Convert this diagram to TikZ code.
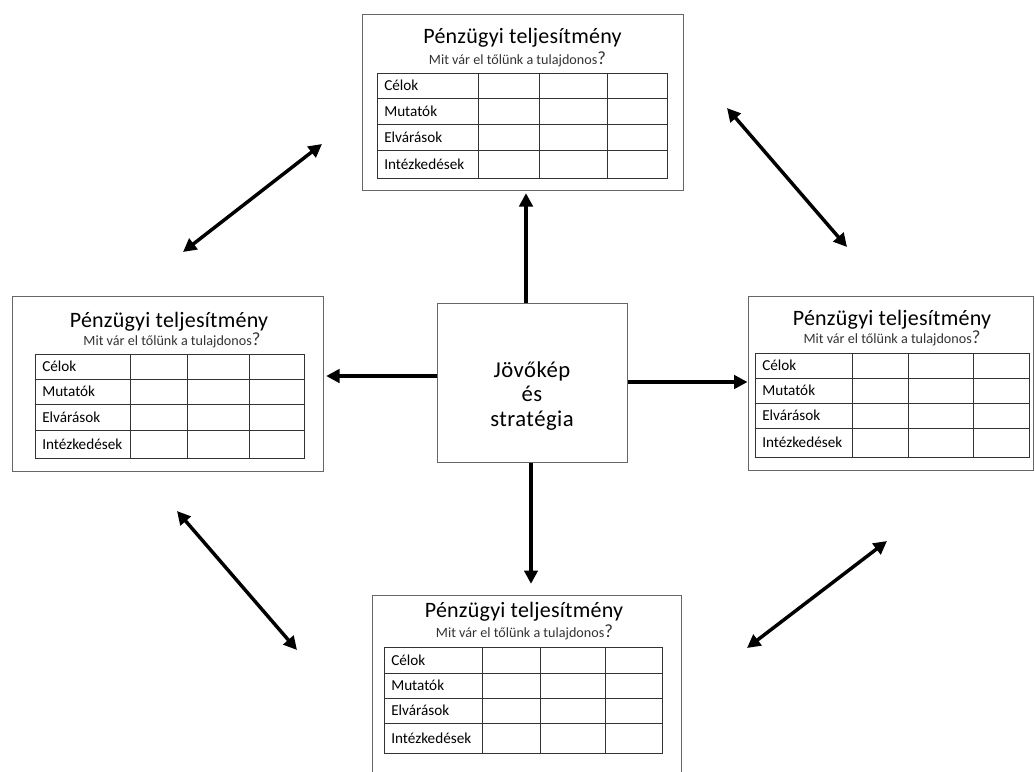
\documentclass[tikz,border=0pt]{standalone}
\usepackage{fontspec}
\setmainfont{Carlito}
\usetikzlibrary{arrows.meta}

\tikzset{
  panel/.style={draw=black!60,line width=0.75pt,inner sep=0pt},
  grid/.style={draw=black!80,line width=0.7pt},
  title/.style={anchor=base,inner sep=0pt,font=\fontsize{16.5}{18}\selectfont\addfontfeature{LetterSpace=1}},
  subtitle/.style={anchor=base,inner sep=0pt,text=black!80,font=\fontsize{10.6}{12}\selectfont},
  rowlabel/.style={anchor=west,inner sep=0pt,font=\fontsize{11.4}{13}\selectfont},
  bigarrow/.style={line width=3pt,-{Triangle[length=10pt,width=10pt]}},
  twoarrow/.style={line width=2.6pt,{Triangle[length=10pt,width=10pt]}-{Triangle[length=10pt,width=10pt]}}
}
\newcommand{\qm}{{\fontsize{14}{13}\selectfont ?}}

\begin{document}
\begin{tikzpicture}[x=0.75pt,y=0.75pt,yscale=-1,xscale=1]
\clip (0,0) rectangle (1035,771);
\fill[white] (0,0) rectangle (1035,771);

%Shape: Rectangle [center]
\node[panel,minimum width=142.5pt,minimum height=119.25pt] (vis) at (532,382.5) {};
% Text Node
\node[align=center,inner sep=0pt,font=\fontsize{17}{18.5}\selectfont\addfontfeature{LetterSpace=2}] (vistext) at (532,396) {Jövőkép\\és\\stratégia};

%Shape: Rectangle [top panel]
\node[panel,minimum width=240.75pt,minimum height=132pt] (fintop) at (522.5,102) {};
% Text Node
\node[title] (ttop) at (522.5,43) {Pénzügyi teljesítmény};
\node[subtitle] (stop) at (517.5,64) {Mit vár el tőlünk a tulajdonos\qm};
%Shape: Table [top panel]
\draw[grid] (377,73) rectangle (667,178) (377,98) -- (667,98) (377,124) -- (667,124) (377,150) -- (667,150)
  (478,73) -- (478,178) (539,73) -- (539,178) (607,73) -- (607,178);
\node[rowlabel] (rtop1) at (384,85.5) {Célok};
\node[rowlabel] (rtop2) at (384,111) {Mutatók};
\node[rowlabel] (rtop3) at (384,137) {Elvárások};
\node[rowlabel] (rtop4) at (384,164) {Intézkedések};

%Shape: Rectangle [left panel]
\node[panel,minimum width=233.25pt,minimum height=131.25pt] (finleft) at (167.5,383.5) {};
% Text Node
\node[title] (tleft) at (169,327) {Pénzügyi teljesítmény};
\node[subtitle] (sleft) at (172,345) {Mit vár el tőlünk a tulajdonos\qm};
%Shape: Table [left panel]
\draw[grid] (35,354) rectangle (304,458) (35,379) -- (304,379) (35,404) -- (304,404) (35,430) -- (304,430)
  (130,354) -- (130,458) (187,354) -- (187,458) (249,354) -- (249,458);
\node[rowlabel] (rleft1) at (42,366.5) {Célok};
\node[rowlabel] (rleft2) at (42,391.5) {Mutatók};
\node[rowlabel] (rleft3) at (42,417) {Elvárások};
\node[rowlabel] (rleft4) at (42,444) {Intézkedések};

%Shape: Rectangle [right panel]
\node[panel,minimum width=213.75pt,minimum height=130.5pt] (finright) at (890.5,383) {};
% Text Node
\node[title] (tright) at (892,325) {Pénzügyi teljesítmény};
\node[subtitle] (sright) at (892,343) {Mit vár el tőlünk a tulajdonos\qm};
%Shape: Table [right panel]
\draw[grid] (755,353) rectangle (1029,457) (755,378) -- (1029,378) (755,403) -- (1029,403) (755,428) -- (1029,428)
  (852,353) -- (852,457) (908,353) -- (908,457) (973,353) -- (973,457);
\node[rowlabel] (rright1) at (762,365.5) {Célok};
\node[rowlabel] (rright2) at (762,390.5) {Mutatók};
\node[rowlabel] (rright3) at (762,415.5) {Elvárások};
\node[rowlabel] (rright4) at (762,442.5) {Intézkedések};

%Shape: Rectangle [bottom panel]
\node[panel,minimum width=231.75pt,minimum height=157.5pt] (finbot) at (526.5,700) {};
% Text Node
\node[title] (tbot) at (524,617) {Pénzügyi teljesítmény};
\node[subtitle] (sbot) at (524.5,637) {Mit vár el tőlünk a tulajdonos\qm};
%Shape: Table [bottom panel]
\draw[grid] (384,647) rectangle (662,753) (384,673) -- (662,673) (384,698) -- (662,698) (384,723) -- (662,723)
  (482,647) -- (482,753) (540,647) -- (540,753) (605,647) -- (605,753);
\node[rowlabel] (rbot1) at (391,660) {Célok};
\node[rowlabel] (rbot2) at (391,685.5) {Mutatók};
\node[rowlabel] (rbot3) at (391,710.5) {Elvárások};
\node[rowlabel] (rbot4) at (391,738) {Intézkedések};

%Straight Lines [center to panels]
\draw[bigarrow,shorten >=2pt] (vis.north -| 526,0) -- (fintop.south -| 526,0);
\draw[bigarrow,shorten >=8pt] (vis.south -| 531,0) -- (finbot.north -| 531,0);
\draw[bigarrow,shorten >=2pt] (vis.west |- 0,376) -- (finleft.east |- 0,376);
\draw[bigarrow] (vis.east |- 0,382) -- (finright.west |- 0,382);

%Straight Lines [between panels]
\coordinate (ul1) at (183,252);
\coordinate (ul2) at (322,144);
\coordinate (ur1) at (727,108);
\coordinate (ur2) at (847,247);
\coordinate (ll1) at (177,511);
\coordinate (ll2) at (297,650);
\coordinate (lr1) at (887,541);
\coordinate (lr2) at (747,648);
\draw[twoarrow] (ul1) -- (ul2);
\draw[twoarrow] (ur1) -- (ur2);
\draw[twoarrow] (ll1) -- (ll2);
\draw[twoarrow] (lr1) -- (lr2);

\end{tikzpicture}
\end{document}
